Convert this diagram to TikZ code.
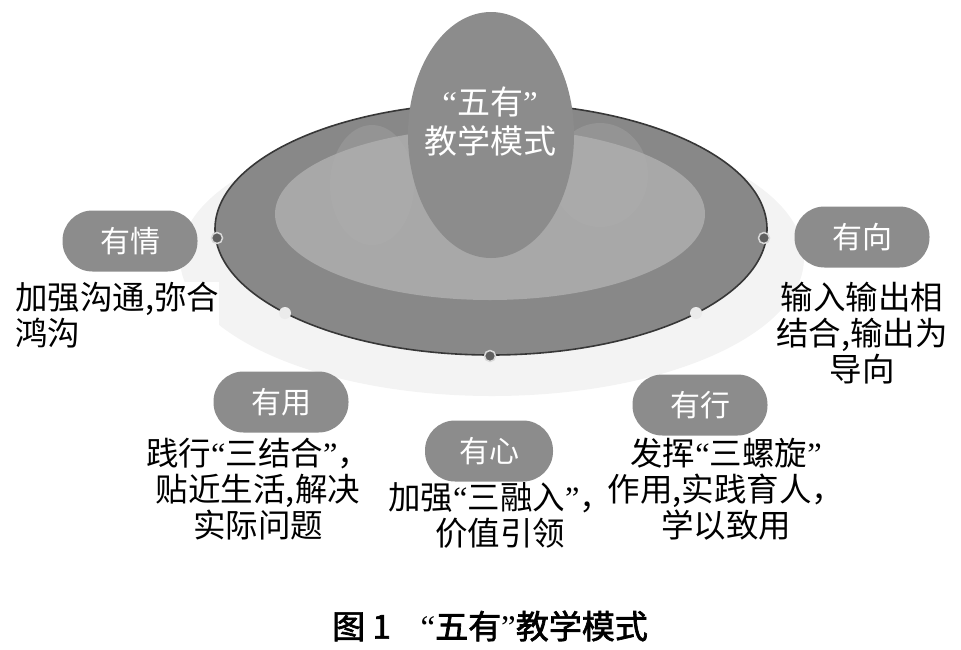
\documentclass[tikz,border=0pt]{standalone}
\usepackage{fontspec}
\setmainfont{Noto Sans CJK SC}
\newfontfamily\cjkb[FakeBold=2]{Noto Sans CJK SC}
\newfontfamily\quotefont{Liberation Serif}
\newcommand{\myql}{{\quotefont “}}
\newcommand{\myqr}{{\quotefont ”}}
\usetikzlibrary{shapes.geometric}
\definecolor{halo}{RGB}{243,243,243}
\definecolor{ring}{RGB}{136,136,136}
\definecolor{inner}{RGB}{168,168,168}
\definecolor{blob}{RGB}{176,176,176}
\definecolor{egg}{RGB}{140,140,140}
\definecolor{pill}{RGB}{140,140,140}
\definecolor{edge}{RGB}{55,55,55}
\tikzset{
  pillbox/.style={rectangle, rounded corners=30pt, fill=pill, minimum width=135pt, minimum height=61pt, text=white, font=\fontsize{30}{32}\selectfont, inner sep=0pt},
  descbox/.style={inner sep=0pt, text=black, font=\fontsize{32.5}{36}\selectfont},
  darkdot/.style={circle, fill=edge!80, draw=white!85!black, line width=1.5pt, minimum size=11pt, inner sep=0pt},
  lightdot/.style={circle, fill=white!92!black, minimum size=12pt, inner sep=0pt},
}
\begin{document}
\begin{tikzpicture}[x=1pt,y=-1pt]
\useasboundingbox (0,0) rectangle (961,649);
% halo
\fill[halo] (492,258) ellipse [x radius=312, y radius=138];
% main ellipse
\fill[ring, draw=edge, line width=1.6pt] (491,229) ellipse [x radius=276, y radius=126];
\fill[inner] (490,214) ellipse [x radius=215, y radius=86];
% faint blobs
\fill[blob, opacity=0.3] (372,185) ellipse [x radius=42, y radius=60];
\fill[blob, opacity=0.3] (600,175) ellipse [x radius=48, y radius=52];
% egg
\node[ellipse, fill=egg, minimum width=166pt, minimum height=246pt, inner sep=0pt] (center) at (491,135) {};
\node[text=white, align=center, font=\fontsize{33}{39}\selectfont, inner sep=0pt] (centertext) at (490,122) {\myql 五有\myqr\\教学模式};
% dots
\node[darkdot] (d1) at (217,238) {};
\node[darkdot] (d2) at (764,238) {};
\node[lightdot] (d3) at (285,313) {};
\node[lightdot] (d4) at (696,313) {};
\node[darkdot] (d5) at (490,356) {};
% pills
\node[pillbox] (qing) at (130,241) {有情};
\node[pillbox] (xiang) at (862,237) {有向};
\node[pillbox] (yong) at (281,402) {有用};
\node[pillbox] (xing) at (700,405) {有行};
\node[pillbox, minimum width=128pt] (xin) at (489,451) {有心};
% descriptions
\node[descbox, fill=white, anchor=north west, align=left] (qingtext) at (15,282) {加强沟通,弥合\\鸿沟};
\node[descbox, anchor=north, align=center] (xiangtext) at (862,282) {输入输出相\\结合,输出为\\导向};
\node[descbox, anchor=north, align=center] (yongtext) at (258,438) {践行\myql 三结合\myqr，\\贴近生活,解决\\实际问题};
\node[descbox, anchor=north, align=center] (xintext) at (500,482) {加强\myql 三融入\myqr，\\价值引领};
\node[descbox, anchor=north, align=center] (xingtext) at (726,438) {发挥\myql 三螺旋\myqr\\作用,实践育人，\\学以致用};
% caption
\node[font=\cjkb\fontsize{33}{36}\selectfont, inner sep=0pt] (caption) at (490,626) {图 1\hspace{0.9em}\myql 五有\myqr 教学模式};
\end{tikzpicture}
\end{document}
